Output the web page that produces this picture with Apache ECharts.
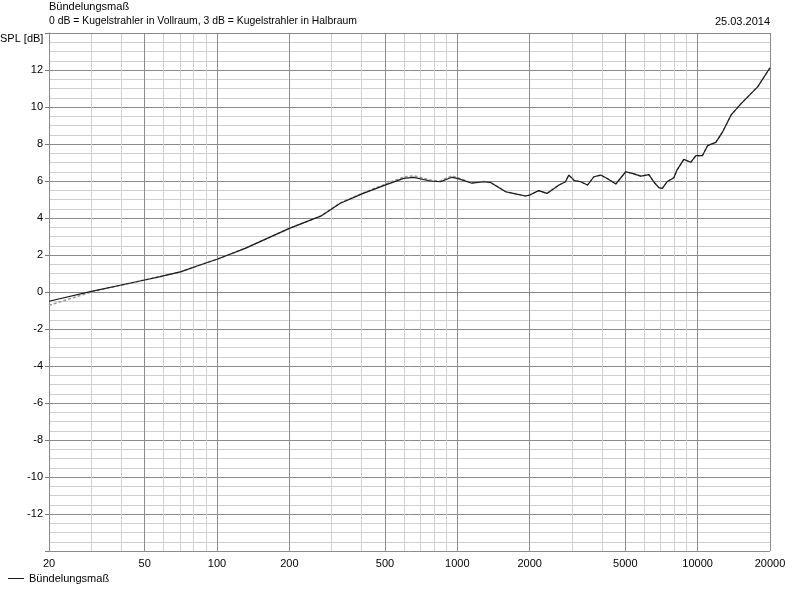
<!DOCTYPE html>
<html>
<head>
<meta charset="utf-8">
<script src="https://cdn.jsdelivr.net/npm/echarts@6/dist/echarts.min.js"></script>
<style>
html,body{margin:0;padding:0;background:#fff;}
#chart{width:800px;height:594px;}
</style>
</head>
<body>
<div id="chart"></div>
<script>
// Frequencies (Hz) and directivity index (dB)
const freqs = [20, 30, 40, 50, 58, 71, 85, 100, 131, 200, 270, 326, 406, 500, 598, 658, 772, 850, 950, 1000, 1150, 1290, 1370, 1590, 1710, 1920, 2000, 2180, 2360, 2650, 2820, 2910, 3070, 3260, 3480, 3700, 3950, 4200, 4570, 5020, 5350, 5800, 6270, 6600, 6900, 7130, 7460, 7960, 8200, 8760, 9360, 9830, 10460, 11000, 11900, 12720, 13780, 15200, 17800, 20000];
const bdm = [-0.50, 0.03, 0.38, 0.65, 0.83, 1.10, 1.46, 1.77, 2.36, 3.44, 4.10, 4.80, 5.33, 5.78, 6.14, 6.20, 6.00, 5.96, 6.20, 6.14, 5.88, 5.96, 5.93, 5.42, 5.33, 5.19, 5.24, 5.48, 5.33, 5.78, 5.96, 6.32, 6.02, 5.96, 5.78, 6.23, 6.32, 6.14, 5.84, 6.50, 6.41, 6.26, 6.34, 5.92, 5.64, 5.60, 5.96, 6.18, 6.59, 7.17, 7.01, 7.37, 7.37, 7.91, 8.09, 8.67, 9.57, 10.20, 11.10, 12.12];
const bdmRef = [-0.72, 0.00, 0.37, 0.65, 0.83, 1.10, 1.46, 1.77, 2.36, 3.44, 4.10, 4.82, 5.36, 5.82, 6.22, 6.28, 6.05, 6.00, 6.28, 6.18, 5.90, 5.98, 5.93, 5.42, 5.33, 5.19, 5.24, 5.48, 5.33, 5.78, 5.96, 6.32, 6.02, 5.96, 5.78, 6.23, 6.32, 6.14, 5.84, 6.50, 6.41, 6.26, 6.34, 5.92, 5.64, 5.60, 5.96, 6.18, 6.59, 7.17, 7.01, 7.37, 7.37, 7.91, 8.09, 8.67, 9.57, 10.20, 11.10, 12.12];
const majorFreqs = [20, 50, 100, 200, 500, 1000, 2000, 5000, 10000, 20000];
const minorFreqs = [30, 40, 60, 70, 80, 90, 300, 400, 600, 700, 800, 900, 3000, 4000, 6000, 7000, 8000, 9000];
const yTickLabels = [-12, -10, -8, -6, -4, -2, 0, 2, 4, 6, 8, 10, 12];

const FONT = 'Liberation Sans';
const lg = v => Math.log10(v);
const xMin = lg(freqs[0]), xMax = lg(freqs[freqs.length - 1]);

const chart = echarts.init(document.getElementById('chart'), null, {renderer: 'canvas'});
chart.setOption({
  animation: false,
  backgroundColor: '#fff',
  textStyle: {fontFamily: FONT, color: '#000'},
  title: {
    text: 'Bündelungsmaß',
    subtext: '0 dB = Kugelstrahler in Vollraum, 3 dB = Kugelstrahler in Halbraum',
    left: 49, top: 1, padding: 0, itemGap: 4,
    textStyle: {fontFamily: FONT, fontSize: 11, fontWeight: 'normal', color: '#000'},
    subtextStyle: {fontFamily: FONT, fontSize: 10.4, color: '#000'}
  },
  graphic: [
    {type: 'text', right: 30, top: 16, style: {text: '25.03.2014', font: '11px "Liberation Sans"', fill: '#000'}},
    {type: 'text', left: 0, top: 33, style: {text: 'SPL [dB]', font: '11px "Liberation Sans"', fill: '#000'}}
  ],
  legend: {
    data: [{name: 'Bündelungsmaß', icon: 'rect'}],
    left: 8, top: 573, padding: 0,
    itemWidth: 16, itemHeight: 1, itemGap: 5,
    textStyle: {fontFamily: FONT, fontSize: 11, color: '#000'}
  },
  grid: {left: 49, right: 30, top: 33, bottom: 43, containLabel: false},
  xAxis: [
    {
      type: 'value', min: xMin, max: xMax,
      axisLine: {show: true, lineStyle: {color: '#888', width: 1}},
      axisTick: {show: true, length: 4, customValues: majorFreqs.map(lg), lineStyle: {color: '#777'}},
      axisLabel: {
        customValues: majorFreqs.map(lg), margin: 7,
        fontFamily: FONT, fontSize: 11, color: '#000',
        formatter: v => String(Math.round(Math.pow(10, v)))
      },
      splitLine: {show: true, lineStyle: {color: '#8c8c8c', width: 1}}
    },
    {
      type: 'value', min: xMin, max: xMax, position: 'top',
      axisLine: {show: true, lineStyle: {color: '#888', width: 1}},
      axisTick: {show: false, customValues: minorFreqs.map(lg)},
      axisLabel: {show: false},
      splitLine: {show: true, lineStyle: {color: '#d0d0d0', width: 1}}
    }
  ],
  yAxis: {
    type: 'value', min: -14, max: 14, interval: 2,
    axisLine: {show: true, lineStyle: {color: '#888'}},
    axisTick: {show: true, length: 4, lineStyle: {color: '#777'}},
    axisLabel: {
      margin: 6, fontFamily: FONT, fontSize: 11, color: '#000',
      formatter: v => (yTickLabels.indexOf(v) >= 0 ? String(v) : '')
    },
    splitLine: {show: true, lineStyle: {color: '#8c8c8c', width: 1}},
    minorTick: {show: false, splitNumber: 4},
    minorSplitLine: {show: true, lineStyle: {color: '#d0d0d0', width: 1}}
  },
  series: [
    {
      name: 'Referenz', type: 'line', xAxisIndex: 0,
      data: freqs.map((f, i) => [lg(f), bdmRef[i]]),
      symbol: 'none', silent: true,
      lineStyle: {color: '#9a9a9a', width: 1.5, type: [3, 2]},
      z: 2
    },
    {
      name: 'Bündelungsmaß', type: 'line', xAxisIndex: 0,
      data: freqs.map((f, i) => [lg(f), bdm[i]]),
      symbol: 'none',
      lineStyle: {color: '#1a1a1a', width: 1.2},
      itemStyle: {color: '#1a1a1a'},
      z: 3
    }
  ]
});
</script>
</body>
</html>
